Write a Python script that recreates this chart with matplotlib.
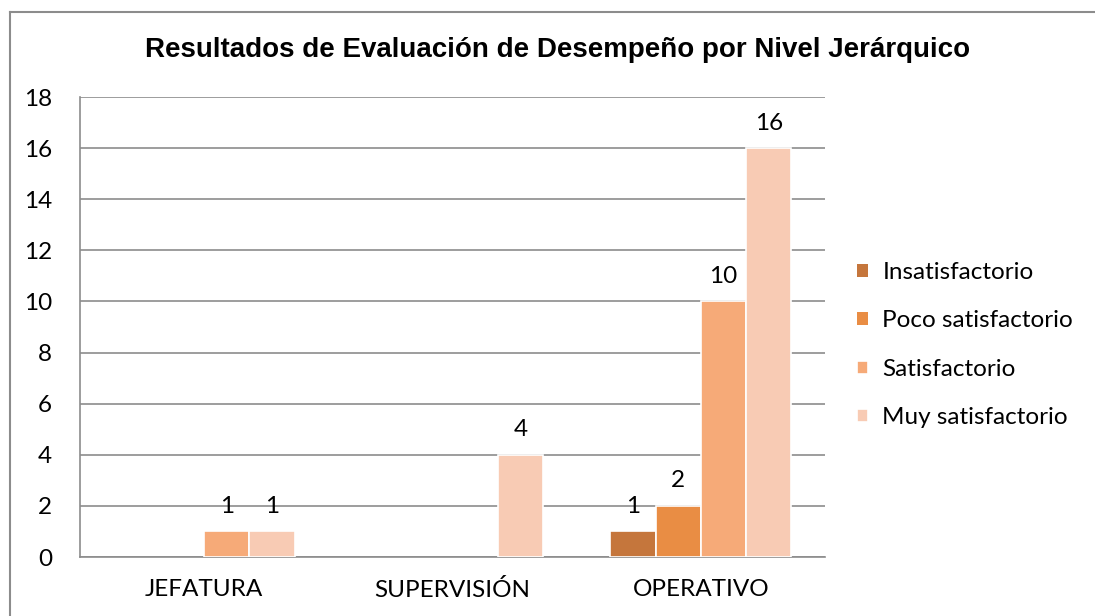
import matplotlib
matplotlib.use("Agg")
import matplotlib.pyplot as plt
import numpy as np
from matplotlib.lines import Line2D

categories = ["JEFATURA", "SUPERVISIÓN", "OPERATIVO"]
series = ["Insatisfactorio", "Poco satisfactorio", "Satisfactorio", "Muy satisfactorio"]
insatisfactorio = [0, 0, 1]
poco_satisfactorio = [0, 0, 2]
satisfactorio = [1, 0, 10]
muy_satisfactorio = [1, 4, 16]
values = [insatisfactorio, poco_satisfactorio, satisfactorio, muy_satisfactorio]
colors = ["#C5763C", "#E98D44", "#F6AA78", "#F8CBB4"]
yticks = [0, 2, 4, 6, 8, 10, 12, 14, 16, 18]

plt.rcParams['font.family'] = ['Lato', 'DejaVu Sans']

fig = plt.figure(figsize=(10.95, 6.16), dpi=100)
ax = fig.add_axes([80/1095, 59/616, 745/1095, 460/616])

x = np.arange(len(categories))
w = 0.182
for i, (name, vals, c) in enumerate(zip(series, values, colors)):
    pos = x + (i - 1.5) * w
    lws = [1.2 if v > 0 else 0 for v in vals]
    bars = ax.bar(pos, vals, width=w, color=c, edgecolor="white", linewidth=lws,
                  label=name, zorder=3)
    for b, v in zip(bars, vals):
        if v > 0:
            ax.annotate(str(v), (b.get_x() + b.get_width() / 2, v),
                        xytext=(0, 18), textcoords="offset points",
                        ha="center", va="center", fontsize=17.5, color="black")

ax.set_xlim(-0.5, 2.5)
ax.set_ylim(0, 18)
ax.set_yticks(yticks)
ax.set_xticks(x)
ax.set_xticklabels(categories)
ax.tick_params(axis="both", length=0, labelsize=17.5)
ax.tick_params(axis="x", pad=16)
ax.tick_params(axis="y", pad=20)
ax.grid(axis="y", color="#8C8C8C", linewidth=1.2, zorder=0)
for s in ["top", "right"]:
    ax.spines[s].set_visible(False)
ax.spines["left"].set_color("#8C8C8C")
ax.spines["left"].set_linewidth(1.2)
ax.spines["bottom"].set_color("#8C8C8C")
ax.spines["bottom"].set_linewidth(1.2)

fig.text(558/1095, 1 - 50/616, "Resultados de Evaluación de Desempeño por Nivel Jerárquico",
         ha="center", va="center", fontsize=20, fontweight="bold",
         family=["Liberation Sans", "DejaVu Sans"])

leg = ax.legend(loc="center left", bbox_to_anchor=(835/1095, 1 - 345/616),
                bbox_transform=fig.transFigure, frameon=False, fontsize=17.5,
                handlelength=0.45, handleheight=0.45, labelspacing=1.13, handletextpad=0.6)

# outer chart frame (left and top edges visible)
x0, y0 = 10/1095, 1 - 12/616
fig.lines.append(Line2D([x0, x0], [0, y0], transform=fig.transFigure,
                        color="#8C8C8C", linewidth=1.5))
fig.lines.append(Line2D([x0, 1], [y0, y0], transform=fig.transFigure,
                        color="#8C8C8C", linewidth=1.5))

fig.savefig("out.png", dpi=100)
